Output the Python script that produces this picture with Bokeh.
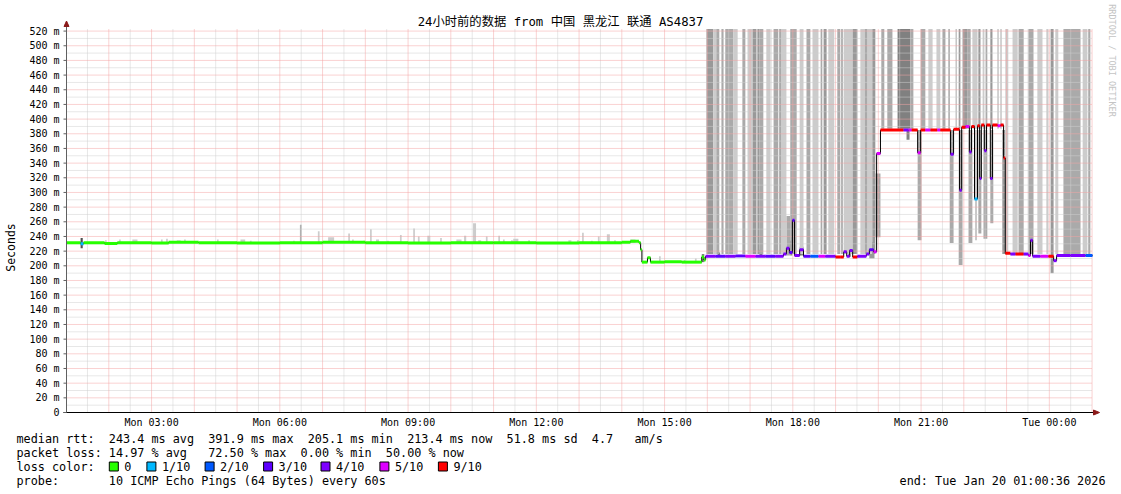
import math
from bokeh.plotting import figure
from bokeh.models import FixedTicker, Label, Range1d
from bokeh.core.properties import value
from bokeh.embed import file_html
from bokeh.resources import INLINE

# ---------------- time / scale constants ----------------
START = 1 + 36 / 3600.0          # Mon 01:00:36 (hours since Mon 00:00)
END = START + 24                 # Tue 01:00:36
PX_PER_H = 42.75
PX_PER_MS = 0.7335
TOP_MS = 523.0                   # upper limit of the graph area

# ---------------- axes ----------------
y_ticks = list(range(0, 521, 20))
y_minor = list(range(10, 521, 20))
x_label_hours = [3, 6, 9, 12, 15, 18, 21, 24]
x_label_text = ["Mon 03:00", "Mon 06:00", "Mon 09:00", "Mon 12:00",
                "Mon 15:00", "Mon 18:00", "Mon 21:00", "Tue 00:00"]
grid_hours = list(range(2, 26))
grid_half_hours = [h + 0.5 for h in range(1, 25)]

# ---------------- median rtt (ms) and lost pings (of 10) ----------------
med_h = [1.01, 1.34, 1.41, 1.90, 2.20, 3.00, 3.40, 4.10, 5.00, 6.00, 7.00, 8.00,
         9.00, 10.00, 11.00, 12.00, 13.00, 14.00, 14.20, 14.40, 14.44, 14.47, 14.60,
         14.67, 15.00, 15.40, 15.87, 15.92,
         15.96, 16.19, 16.42, 16.66, 16.89, 17.13, 17.36, 17.59, 17.78, 17.85, 17.92,
         17.99, 18.04, 18.16, 18.25, 18.41, 18.60, 18.76, 19.00, 19.11, 19.19, 19.26,
         19.33, 19.40, 19.51, 19.72, 19.79, 19.89, 19.96,
         20.05, 20.59, 20.71, 20.78, 20.92, 20.99, 21.10, 21.22, 21.38, 21.45, 21.69,
         21.76, 21.90, 21.95, 22.04, 22.13, 22.18, 22.25, 22.32, 22.37, 22.41, 22.48,
         22.53, 22.62, 22.67, 22.79, 22.86, 22.93,
         22.97, 23.09, 23.21, 23.40, 23.51, 23.56, 23.61, 23.79, 23.98, 24.10, 24.17,
         24.50, 24.85]
med_ms = [231.5, 230, 231.5, 230.5, 231.5, 231, 232, 231.5, 231, 231.5, 232, 231.5,
          231, 231.5, 231.5, 231, 231.5, 232, 233.5, 231.5, 222, 205, 211,
          205, 205.5, 205, 212, 208,
          213, 213, 213, 213.5, 213, 213, 213, 213, 216, 224, 218,
          262, 214, 222, 213, 213, 213, 213, 212, 212, 219, 213,
          221, 212, 213, 216, 222, 219, 353,
          385, 385, 385, 385, 354, 385, 385, 385, 385, 385, 352,
          386, 303, 389, 390, 355, 390, 291, 391, 319, 392, 357,
          392, 319, 392, 391, 392, 347,
          217, 216, 216, 216, 214, 235, 213, 213, 213, 207, 214,
          214, 214]
med_loss = [0, 1, 0, 0, 0, 0, 0, 0, 0, 0, 0, 0,
            0, 0, 0, 0, 0, 0, 0, 0, 0, 0, 0,
            0, 0, 0, 0, 0,
            4, 3, 4, 3, 5, 4, 3, 4, 4, 4, 3,
            3, 4, 4, 3, 2, 5, 4, 9, 9, 4, 4,
            4, 9, 4, 4, 3, 5, 5,
            9, 4, 5, 9, 5, 9, 5, 9, 5, 9, 4,
            9, 4, 9, 5, 4, 9, 1, 9, 4, 9, 4,
            9, 4, 9, 5, 9, 9,
            9, 4, 9, 4, 5, 4, 4, 5, 9, 4, 4,
            4, 2]

# ---------------- smoke (spread of the 10 pings) ----------------
sm_t0 = [1.34, 1.91, 2.24, 2.55, 3.22, 3.34, 3.59, 3.76, 4.53, 5.08, 5.30, 6.31,
         6.47, 6.89, 7.13, 7.60, 7.69, 7.95, 8.11, 8.25, 8.51, 8.81, 9.12, 9.23,
         9.45, 9.75, 10.13, 10.31, 10.52, 10.64, 10.82, 11.11, 11.22, 11.41, 11.46,
         11.81, 12.75, 12.95, 13.07, 13.28, 13.44, 13.65, 13.82, 14.20,
         14.87, 15.45, 15.71, 15.87,
         16.24, 17.22, 17.85, 17.94, 18.16, 19.30, 19.79,
         15.98, 16.14, 16.21, 16.42, 16.61, 16.82, 16.94, 17.06, 17.22, 17.38, 17.55,
         17.73, 17.94, 18.16, 18.32, 18.46, 18.65, 18.83, 19.04, 19.19, 19.40, 19.58,
         19.68, 19.75, 19.86,
         16.33, 17.17, 17.68, 18.72, 19.13,
         20.07, 20.21, 20.45, 20.75, 20.99, 21.17, 21.36, 21.50, 21.64, 21.81, 21.88,
         21.97, 22.09, 22.20, 22.34, 22.44, 22.51, 22.62, 22.79, 22.86,
         19.93, 20.66, 20.92, 21.67, 21.88, 22.11, 22.27, 22.34, 22.46, 22.62, 22.90,
         22.97, 23.14, 23.28, 23.51, 23.72, 23.93, 24.03, 24.14, 24.33, 24.78, 24.91]
sm_t1 = [1.39, 1.95, 2.28, 2.67, 3.26, 3.38, 3.68, 3.80, 4.57, 5.19, 5.34, 6.35,
         6.51, 6.93, 7.27, 7.64, 7.73, 7.99, 8.15, 8.32, 8.55, 8.85, 9.16, 9.27,
         9.52, 9.79, 10.25, 10.36, 10.59, 10.71, 10.86, 11.15, 11.26, 11.45, 11.58,
         11.85, 12.82, 13.00, 13.11, 13.32, 13.48, 13.72, 13.86, 14.32,
         14.91, 15.49, 15.75, 15.93,
         16.30, 17.29, 17.94, 17.99, 18.25, 19.35, 19.91,
         16.14, 16.21, 16.28, 16.61, 16.71, 16.89, 17.06, 17.15, 17.31, 17.48, 17.66,
         17.85, 18.09, 18.25, 18.41, 18.60, 18.69, 18.97, 19.11, 19.40, 19.51, 19.68,
         19.75, 19.86, 19.93,
         16.38, 17.22, 17.73, 18.79, 19.17,
         20.14, 20.33, 20.75, 20.82, 21.10, 21.27, 21.45, 21.57, 21.67, 21.83, 21.92,
         22.09, 22.16, 22.32, 22.39, 22.48, 22.55, 22.67, 22.81, 22.88,
         20.05, 20.73, 21.01, 21.76, 21.97, 22.20, 22.30, 22.41, 22.55, 22.69, 22.97,
         23.04, 23.26, 23.40, 23.63, 23.84, 23.98, 24.10, 24.21, 24.73, 24.89, 24.96]
sm_lo = [224, 231, 231, 231, 231, 231, 231, 231, 231, 231, 231, 231,
         231, 231, 231, 231, 231, 231, 231, 231, 231, 231, 231, 231,
         231, 231, 231, 231, 231, 231, 231, 231, 231, 231, 231,
         231, 231, 231, 231, 231, 231, 231, 231, 231,
         205, 205, 205, 205,
         212, 212, 214, 214, 214, 212, 210,
         216, 216, 216, 216, 216, 216, 216, 216, 216, 216, 216,
         216, 216, 216, 216, 216, 216, 216, 216, 216, 216, 216,
         216, 216, 216,
         216, 216, 216, 216, 216,
         387, 387, 387, 387, 387, 387, 387, 387, 387, 387, 387,
         387, 387, 387, 387, 387, 387, 387, 387, 387,
         239, 372, 235, 231, 201, 231, 235, 244, 237, 258, 216,
         216, 216, 216, 216, 216, 216, 190, 216, 216, 216, 216]
sm_hi = [238, 235, 236, 236, 236, 237, 235, 236, 236, 236, 234, 234,
         256, 247, 239, 244, 236, 234, 250, 236, 234, 242, 251, 240,
         241, 238, 236, 241, 258, 235, 240, 241, 236, 235, 237,
         235, 235, 235, 245, 234, 240, 243, 235, 236,
         213, 208, 210, 216,
         218, 222, 268, 234, 226, 222, 232,
         600, 600, 600, 600, 600, 600, 600, 600, 600, 600, 600,
         600, 600, 600, 600, 600, 600, 600, 600, 600, 600, 600,
         600, 600, 600,
         600, 600, 600, 600, 600,
         600, 600, 600, 600, 600, 600, 600, 600, 600, 600, 600,
         600, 600, 600, 600, 600, 600, 600, 600, 600,
         326, 385, 385, 385, 385, 385, 385, 385, 385, 385, 385,
         600, 600, 600, 600, 600, 600, 600, 600, 600, 600, 600]
sm_lvl = [5, 1, 1, 1, 1, 1, 1, 1, 1, 1, 1, 1,
          2, 1, 1, 1, 1, 1, 1, 1, 1, 1, 1, 1,
          1, 1, 1, 1, 1, 1, 1, 1, 1, 1, 1,
          1, 1, 1, 1, 1, 1, 1, 1, 1,
          1, 1, 1, 4,
          4, 4, 2, 4, 4, 4, 3,
          3, 1, 2, 2, 1, 2, 1, 3, 2, 1, 2,
          1, 2, 1, 2, 1, 2, 1, 2, 1, 3, 1,
          2, 1, 3,
          2, 3, 2, 3, 2,
          2, 2, 4, 2, 2, 1, 1, 2, 3, 3, 3,
          3, 2, 1, 3, 1, 2, 3, 3, 3,
          2, 4, 2, 2, 2, 2, 2, 2, 2, 2, 3,
          1, 1, 2, 2, 1, 1, 3, 1, 2, 1, 2]

# ---------------- texts ----------------
title_text = "24小时前的数据 from 中国 黑龙江 联通 AS4837"
legend_rows = [
    "median rtt:  243.4 ms avg  391.9 ms max  205.1 ms min  213.4 ms now  51.8 ms sd  4.7   am/s",
    "packet loss: 14.97 % avg   72.50 % max  0.00 % min  50.00 % now",
    "loss color:",
    "probe:       10 ICMP Echo Pings (64 Bytes) every 60s",
]
loss_legend_labels = ["0", "1/10", "2/10", "3/10", "4/10", "5/10", "9/10"]
loss_legend_values = [0, 1, 2, 3, 4, 5, 9]
end_text = "end: Tue Jan 20 01:00:36 2026"

LOSS_COLORS = {0: "#26ff00", 1: "#00b8ff", 2: "#0059ff", 3: "#5e00ff",
               4: "#7e00ff", 5: "#dd00ff", 9: "#ff0000"}
SMOKE_COLORS = {1: "#cccccc", 2: "#aaaaaa", 3: "#999999", 4: "#808080", 5: "#505050"}
MONO = "DejaVu Sans Mono"
W, H = 1121, 494


def hx(X):   # page pixel x -> hours
    return START + (X - 66) / PX_PER_H


def my(Y):   # page pixel y -> ms
    return (412 - Y) / PX_PER_MS


def keep_spaces(s):
    return s.replace(" ", "\u00a0")


p = figure(width=W, height=H, output_backend="svg", toolbar_location=None,
           min_border=0, x_range=Range1d(hx(0), hx(W)), y_range=Range1d(my(H), my(0)))
p.outline_line_color = None
p.xgrid.visible = False
p.ygrid.visible = False

# smoke
p.quad(left=sm_t0, right=sm_t1, bottom=sm_lo, top=[min(v, TOP_MS) for v in sm_hi],
       fill_color=[SMOKE_COLORS[l] for l in sm_lvl], line_color=None)

# grid (minor grey, major red, dotted)
GREY, RED = "#cfcfcf", "#f4a4a4"
p.segment(x0=[START] * len(y_minor), x1=[END] * len(y_minor), y0=y_minor, y1=y_minor,
          line_color=GREY, line_width=1, line_dash="1 1")
p.segment(x0=grid_half_hours, x1=grid_half_hours, y0=[0] * len(grid_half_hours),
          y1=[TOP_MS] * len(grid_half_hours), line_color=GREY, line_width=1,
          line_dash="1 1")
maj_y = [t for t in y_ticks if t > 0]
p.segment(x0=[START] * len(maj_y), x1=[END] * len(maj_y), y0=maj_y, y1=maj_y,
          line_color=RED, line_width=1, line_dash="1 1")
p.segment(x0=grid_hours, x1=grid_hours, y0=[0] * len(grid_hours),
          y1=[TOP_MS] * len(grid_hours), line_color=RED, line_width=1,
          line_dash="1 1")

# median line
p.step(x=med_h + [END], y=med_ms + [med_ms[-1]], mode="after", line_color="black",
       line_width=1)
p.segment(x0=med_h, x1=med_h[1:] + [END], y0=med_ms, y1=med_ms,
          line_color=[LOSS_COLORS[l] for l in med_loss], line_width=3)

# axis lines, ticks and arrows
p.segment(x0=[hx(63)], x1=[hx(1094)], y0=[0], y1=[0], line_color="black", line_width=1)
p.segment(x0=[START], x1=[START], y0=[0], y1=[my(24)], line_color="#606060",
          line_width=1)
p.segment(x0=[hx(63)] * len(y_ticks), x1=[START] * len(y_ticks), y0=y_ticks,
          y1=y_ticks, line_color="#606060", line_width=1)
p.patch(x=[hx(63.5), hx(68.5), hx(66)], y=[my(26), my(26), my(20.5)],
        fill_color="#8b1a1a", line_color="#8b1a1a")
p.patch(x=[hx(1093), hx(1093), hx(1099)], y=[my(409.5), my(414.5), my(412)],
        fill_color="#8b1a1a", line_color="#8b1a1a")

# axes (library), pinned at the data origin so that they take no border space
p.yaxis.fixed_location = START
p.xaxis.fixed_location = 0
p.yaxis.ticker = FixedTicker(ticks=y_ticks, minor_ticks=[])
p.yaxis.major_label_overrides = {t: (f"{t} m" if t else "0") for t in y_ticks}
p.xaxis.ticker = FixedTicker(ticks=x_label_hours, minor_ticks=[])
p.xaxis.major_label_overrides = dict(zip(x_label_hours, x_label_text))
for ax in (p.xaxis, p.yaxis):
    ax.axis_line_color = None
    ax.major_tick_line_color = None
    ax.minor_tick_line_color = None
    ax.major_tick_out = 0
    ax.major_tick_in = 0
    ax.major_label_text_font = MONO
    ax.major_label_text_font_size = "10px"
    ax.major_label_text_color = "black"
p.yaxis.major_label_standoff = 7
p.xaxis.major_label_standoff = 4
p.yaxis.axis_label = "Seconds"
p.yaxis.axis_label_text_font = MONO
p.yaxis.axis_label_text_font_size = "11.5px"
p.yaxis.axis_label_text_font_style = "normal"
p.yaxis.axis_label_text_color = "black"
p.yaxis.axis_label_standoff = 8

# title and credits
p.add_layout(Label(x=hx(560), y=my(21), text=title_text, text_align="center",
                   text_baseline="middle", text_font=MONO + ", Noto Sans CJK SC",
                   text_font_size="12.3px", text_color="black"))
p.add_layout(Label(x=hx(1111), y=my(60), text="RRDTOOL / TOBI OETIKER",
                   angle=-math.pi / 2, text_align="center", text_baseline="middle",
                   text_font=MONO, text_font_size="8.5px", text_color="#c4c4c4"))

# legend block
row_Y = [438 + 14 * i for i in range(len(legend_rows))]
p.text(x=[hx(16)] * len(legend_rows), y=[my(Y) for Y in row_Y],
       text=[keep_spaces(r) for r in legend_rows], text_font=value(MONO),
       text_font_size=value("11.8px"), text_baseline="middle", text_align="left",
       text_color="black")
p.text(x=[hx(1105)], y=[my(row_Y[3])], text=[end_text], text_font=value(MONO),
       text_font_size=value("11.8px"), text_baseline="middle", text_align="right",
       text_color="black")
box_X = [108.8, 146.4, 204.6, 263.1, 320.5, 379.4, 437.9]
p.quad(left=[hx(b) for b in box_X], right=[hx(b + 9) for b in box_X],
       top=[my(row_Y[2] - 4.5)] * 7, bottom=[my(row_Y[2] + 4.5)] * 7,
       fill_color=[LOSS_COLORS[v] for v in loss_legend_values], line_color="black",
       line_width=1)
p.text(x=[hx(b + 15) for b in box_X], y=[my(row_Y[2])] * 7, text=loss_legend_labels,
       text_font=value(MONO), text_font_size=value("11.8px"), text_baseline="middle",
       text_align="left", text_color="black")

open("out.html", "w").write(file_html(p, INLINE))
